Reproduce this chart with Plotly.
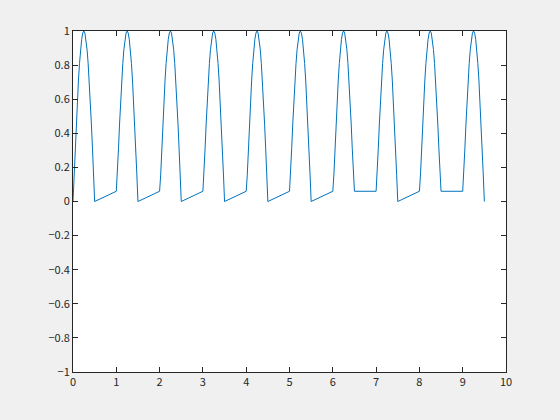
import plotly.graph_objects as go

# shape of one pulse, read at offsets 0.025 .. 0.475 from the start of each cycle
pulse_offsets = [0.025, 0.05, 0.075, 0.1, 0.125, 0.15, 0.175, 0.2, 0.225, 0.25,
                 0.275, 0.3, 0.325, 0.35, 0.375, 0.4, 0.425, 0.45, 0.475]
pulse_values = [0.156, 0.309, 0.454, 0.588, 0.707, 0.809, 0.891, 0.951, 0.988, 1.0,
                0.988, 0.951, 0.891, 0.809, 0.707, 0.588, 0.454, 0.309, 0.156]

# cycle start times, level where each pulse falls to, level at the end of the cycle
cycle_starts = [0, 1, 2, 3, 4, 5, 6, 7, 8, 9]
fall_levels = [0, 0, 0, 0, 0, 0, 0.06, 0, 0.06, 0]
end_levels = [0.06, 0.06, 0.06, 0.06, 0.06, 0.06, 0.06, 0.06, 0.06, None]

x_ticks = [0, 1, 2, 3, 4, 5, 6, 7, 8, 9, 10]
y_ticks = [-1, -0.8, -0.6, -0.4, -0.2, 0, 0.2, 0.4, 0.6, 0.8, 1]
y_labels = ["\u22121", "\u22120.8", "\u22120.6", "\u22120.4", "\u22120.2", "0",
            "0.2", "0.4", "0.6", "0.8", "1"]

t, y = [0], [0]
for k, fall, end in zip(cycle_starts, fall_levels, end_levels):
    t += [k + o for o in pulse_offsets]
    y += pulse_values
    t.append(k + 0.5)
    y.append(fall)
    if end is not None:
        t.append(k + 1)
        y.append(end)

fig = go.Figure(go.Scatter(x=t, y=y, mode="lines",
                           line=dict(color="#0072BD", width=1)))

axis_style = dict(showline=True, linecolor="#262626", linewidth=1, mirror="ticks",
                  ticks="inside", ticklen=5, tickcolor="#262626", showgrid=False,
                  zeroline=False, tickfont=dict(size=11, color="#262626"))

fig.update_xaxes(range=[0, 10], tickvals=x_ticks, **axis_style)
fig.update_yaxes(range=[-1, 1], tickvals=y_ticks, ticktext=y_labels, **axis_style)

fig.update_layout(
    width=560, height=420,
    margin=dict(l=73, r=54, t=31, b=48),
    paper_bgcolor="#f0f0f0", plot_bgcolor="white",
    font=dict(family="Noto Sans CJK JP, Liberation Sans, sans-serif"),
    showlegend=False,
)

# drop the page's default body margin so the figure sits at the window corner
fig.write_html("out.html", config={"displayModeBar": False},
               post_script="document.body.style.margin = '0';")
